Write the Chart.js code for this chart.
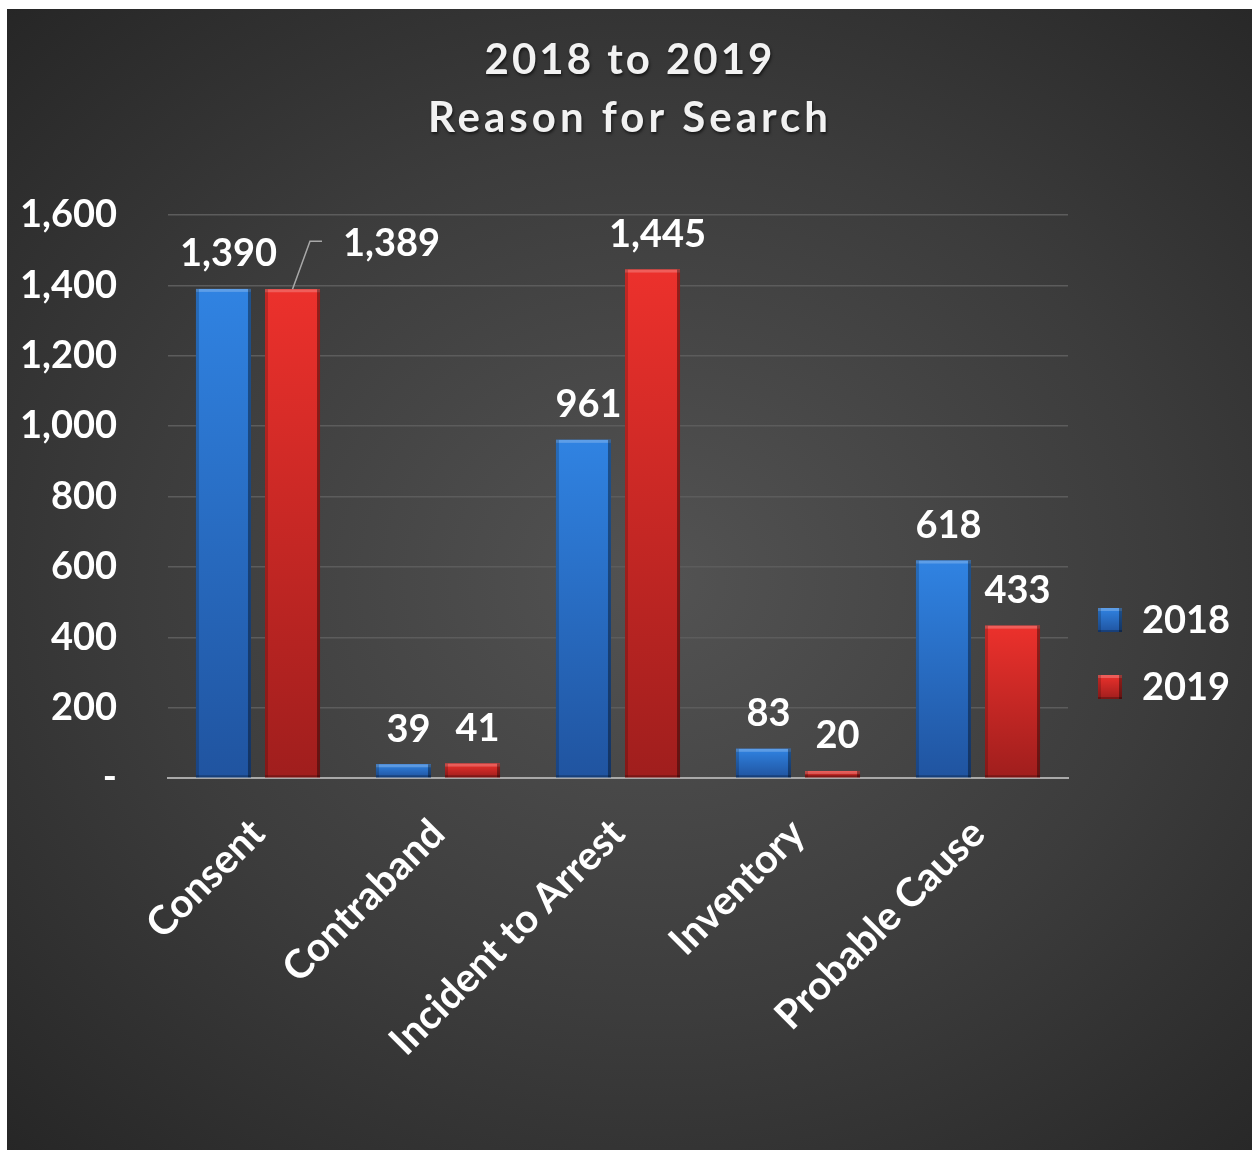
<!DOCTYPE html>
<html>
<head>
<meta charset="utf-8">
<title>Reason for Search</title>
<script src="https://cdn.jsdelivr.net/npm/chart.js@4"></script>
<style>
  html, body { margin: 0; padding: 0; background: #fff; }
  #panel {
    position: absolute;
    left: 7px;
    top: 9px;
    width: 1245px;
    height: 1141px;
    background: radial-gradient(ellipse 75% 70% at 52% 50%, #535353 0%, #3c3c3c 55%, #262626 100%);
  }
  canvas { display: block; }
</style>
</head>
<body>
<div id="panel"><canvas id="chart" width="1245" height="1141"></canvas></div>
<script>
// Searches by reason, two years side by side
const categories = ['Consent', 'Contraband', 'Incident to Arrest', 'Inventory', 'Probable Cause'];
const seriesNames = ['2018', '2019'];
const searches2018 = [1390, 39, 961, 83, 618];
const searches2019 = [1389, 41, 1445, 20, 433];
const yTickValues = [0, 200, 400, 600, 800, 1000, 1200, 1400, 1600];
const titleLines = ['2018 to 2019', 'Reason for Search'];

const FONT = 'Lato, "Open Sans", sans-serif';

// top / bottom shades for each series
const shades = [
  { base: '#2a6fc8', top: '#3083e2', bottom: '#2054a0' },
  { base: '#d42a26', top: '#ec312c', bottom: '#a01e1d' }
];

function fmt(v) {
  return v === 0 ? '-' : v.toLocaleString('en-US');
}

// paint a bevelled block (used for bars and legend keys)
function bevelRect(ctx, x0, y0, x1, y1, shade) {
  const h = y1 - y0;
  if (h <= 0) return;
  const g = ctx.createLinearGradient(0, y0, 0, y1);
  g.addColorStop(0, shade.top);
  g.addColorStop(1, shade.bottom);
  ctx.fillStyle = g;
  ctx.fillRect(x0, y0, x1 - x0, h);
  const e = Math.min(3, h / 2);
  ctx.fillStyle = 'rgba(255,255,255,0.22)';
  ctx.fillRect(x0, y0, x1 - x0, e);
  ctx.fillStyle = 'rgba(0,0,0,0.18)';
  ctx.fillRect(x0, y0, 3, h);
  ctx.fillStyle = 'rgba(0,0,0,0.38)';
  ctx.fillRect(x1 - 3, y0, 3, h);
  ctx.fillStyle = 'rgba(0,0,0,0.25)';
  ctx.fillRect(x0, y1 - Math.min(2, h / 3), x1 - x0, Math.min(2, h / 3));
}

const bevelBars = {
  id: 'bevelBars',
  afterDatasetsDraw(chart) {
    const ctx = chart.ctx;
    ctx.save();
    chart.data.datasets.forEach((ds, di) => {
      chart.getDatasetMeta(di).data.forEach(bar => {
        const { x, y, base, width } = bar.getProps(['x', 'y', 'base', 'width'], true);
        bevelRect(ctx, x - width / 2, y, x + width / 2, base, shades[di]);
      });
    });
    ctx.restore();
  }
};

// value labels above the bars; the 2019 Consent label sits aside with a leader line
const valueLabels = {
  id: 'valueLabels',
  afterDatasetsDraw(chart) {
    const ctx = chart.ctx;
    ctx.save();
    ctx.font = `bold 38px ${FONT}`;
    ctx.fillStyle = '#fff';
    ctx.textAlign = 'center';
    ctx.textBaseline = 'middle';
    chart.data.datasets.forEach((ds, di) => {
      chart.getDatasetMeta(di).data.forEach((bar, i) => {
        const { x, y } = bar.getProps(['x', 'y'], true);
        const text = fmt(ds.data[i]);
        let lx = x + 5;
        let ly = y - 35;
        if (di === 1 && i === 0) {
          lx = x + 99;
          ly = y - 45;
          const left = lx - ctx.measureText(text).width / 2;
          ctx.strokeStyle = '#a8a8a8';
          ctx.lineWidth = 1.5;
          ctx.beginPath();
          ctx.moveTo(x, y);
          ctx.lineTo(left - 33, ly - 3);
          ctx.lineTo(left - 21, ly - 3);
          ctx.stroke();
        }
        ctx.fillText(text, lx, ly);
      });
    });
    ctx.restore();
  }
};

const titleAndLegend = {
  id: 'titleAndLegend',
  afterDraw(chart) {
    const ctx = chart.ctx;
    ctx.save();
    ctx.textAlign = 'center';
    ctx.textBaseline = 'middle';
    ctx.font = `bold 42px ${FONT}`;
    ctx.shadowColor = 'rgba(0,0,0,0.6)';
    ctx.shadowOffsetX = 1;
    ctx.shadowOffsetY = 2;
    ctx.shadowBlur = 3;
    ctx.fillStyle = '#f2f2f2';
    ctx.letterSpacing = '3px';
    ctx.fillText(titleLines[0], 623, 51);
    ctx.letterSpacing = '4px';
    ctx.fillText(titleLines[1], 623, 109);
    ctx.restore();

    ctx.save();
    ctx.font = `bold 38px ${FONT}`;
    ctx.textAlign = 'left';
    ctx.textBaseline = 'middle';
    seriesNames.forEach((name, i) => {
      const cy = 611 + i * 67;
      bevelRect(ctx, 1091, cy - 12, 1115, cy + 12, shades[i]);
      ctx.fillStyle = '#fff';
      ctx.fillText(name, 1135, cy + 1);
    });
    ctx.restore();
  }
};

const tickFont = { family: FONT, size: 38, weight: 'bold' };

new Chart(document.getElementById('chart'), {
  type: 'bar',
  data: {
    labels: categories,
    datasets: [
      { label: seriesNames[0], data: searches2018, backgroundColor: shades[0].base },
      { label: seriesNames[1], data: searches2019, backgroundColor: shades[1].base }
    ]
  },
  options: {
    responsive: false,
    animation: false,
    categoryPercentage: 0.767,
    barPercentage: 0.797,
    layout: { padding: { top: 206, right: 184, left: 0, bottom: 0 } },
    plugins: {
      legend: { display: false },
      title: { display: false },
      tooltip: { enabled: false }
    },
    scales: {
      x: {
        grid: { display: false, drawTicks: false },
        border: { display: true, color: '#a9a9a9', width: 2 },
        ticks: {
          color: '#fff',
          font: { family: FONT, size: 40, weight: 'bold' },
          minRotation: 45,
          maxRotation: 45,
          autoSkip: false,
          padding: 32
        },
        afterFit: s => { s.height = 372; }
      },
      y: {
        min: 0,
        max: 1600,
        afterBuildTicks: s => { s.ticks = yTickValues.map(v => ({ value: v })); },
        ticks: {
          color: '#fff',
          font: tickFont,
          padding: 51,
          callback: v => fmt(v)
        },
        grid: {
          drawTicks: false,
          lineWidth: 1.5,
          color: c => (c.tick && c.tick.value === 0 ? 'rgba(0,0,0,0)' : '#5c5c5c')
        },
        border: { display: false },
        afterFit: s => { s.width = 161; }
      }
    }
  },
  plugins: [bevelBars, valueLabels, titleAndLegend]
});
</script>
</body>
</html>
